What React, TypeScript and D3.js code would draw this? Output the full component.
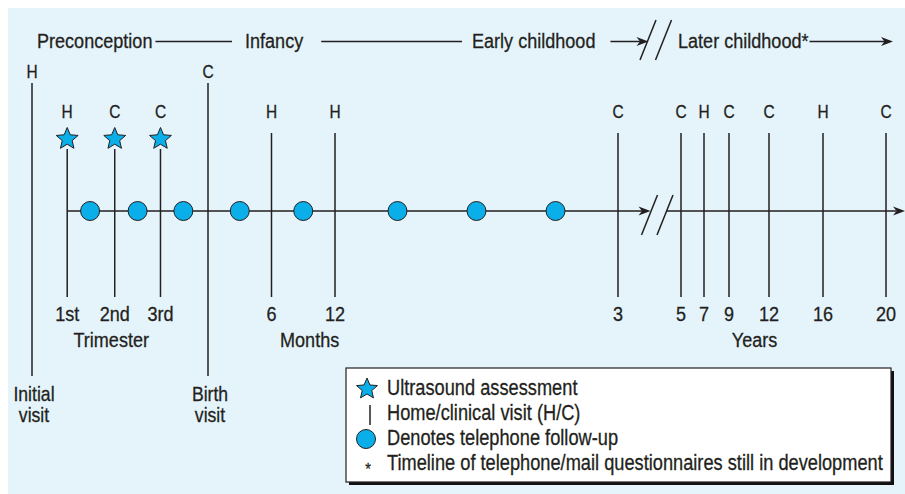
import { useEffect, useRef } from 'react';
import * as d3 from 'd3';

// study stages shown across the top
const eras = ['Preconception', 'Infancy', 'Early childhood', 'Later childhood*'];

// visits, in months relative to birth
const visitMonths = [-10, -8, -5.3, -2.7, 0, 6, 12, 36, 60, 84, 108, 144, 192, 240];
const visitCodes = ['H', 'H', 'C', 'C', 'C', 'H', 'H', 'C', 'C', 'H', 'C', 'C', 'H', 'C'];
const visitTicks = ['', '1st', '2nd', '3rd', '', '6', '12', '3', '5', '7', '9', '12', '16', '20'];
const milestoneMonths = [-10, 0];
const milestoneNames = [['Initial', 'visit'], ['Birth', 'visit']];
const ultrasoundMonths = [-8, -5.3, -2.7];
const phoneMonths = [-6.7, -4, -1.4, 3, 9, 17.3, 24, 30.7];
const unitLabels = ['Trimester', 'Months', 'Years'];
const unitMonths = [-5.5, 9.6, 131];
const breakMonth = 48;
const legendItems = [
  'Ultrasound assessment',
  'Home/clinical visit (H/C)',
  'Denotes telephone follow-up',
  'Timeline of telephone/mail questionnaires still in development',
];

// schematic timeline: each stage is stretched on its own
const timeKnots = [-10, 0, 12, 36, 60, 84, 108, 144, 192, 240];
const knotX = [32, 208, 335, 618, 681, 704, 729, 769, 823, 886];

const FONT = '"Liberation Sans", Arial, sans-serif';
const SX = 0.86; // squeeze to look like a condensed face
const INK = '#231f20';
const BLUE = '#0aaee9';

function arrowHead(tx: number, ty: number) {
  return `M${tx},${ty}L${tx - 12},${ty - 4.5}L${tx - 8.5},${ty}L${tx - 12},${ty + 4.5}Z`;
}

function starPath(outer: number, inner: number) {
  const pts = d3.range(10).map(i => [(i * Math.PI) / 5, i % 2 ? inner : outer] as [number, number]);
  return d3.lineRadial().curve(d3.curveLinearClosed)(pts) as string;
}

function label(sel: any, x: number, y: number, str: string, size: number, anchor = 'start') {
  return sel
    .append('text')
    .attr('transform', `translate(${x},${y}) scale(${SX},1)`)
    .attr('text-anchor', anchor)
    .attr('font-size', size)
    .attr('stroke', INK)
    .attr('stroke-width', 0.3)
    .text(str);
}

function Timeline() {
  const ref = useRef<SVGSVGElement>(null);

  useEffect(() => {
    const svg = d3.select(ref.current);
    svg.selectAll('*').remove();

    const x = d3.scaleLinear().domain(timeKnots).range(knotX);
    const axisY = 211;

    svg
      .append('rect')
      .attr('x', 8)
      .attr('y', 8)
      .attr('width', 897)
      .attr('height', 486)
      .attr('fill', '#e5f4fb');

    const g = svg.append('g').attr('font-family', FONT).attr('fill', INK);

    // header with stage names
    const eraX = [37, 245, 472, 678];
    const headY = 48;
    const lineY = 41.5;
    const ends: number[] = [];
    eras.forEach((name, i) => {
      const t = label(g, eraX[i], headY, name, 21);
      const w = (t.node() as SVGTextElement).getComputedTextLength() * SX;
      ends.push(eraX[i] + w);
    });
    const conn = [
      [ends[0] + 3, eraX[1] - 13, false],
      [ends[1] + 18, eraX[2] - 10, false],
      [ends[2] + 15, x(breakMonth) - 1, true],
      [ends[3] + 1, 893, true],
    ] as [number, number, boolean][];
    conn.forEach(([a, b, arrow]) => {
      g.append('line')
        .attr('x1', a)
        .attr('x2', arrow ? b - 8 : b)
        .attr('y1', lineY)
        .attr('y2', lineY)
        .attr('stroke', INK)
        .attr('stroke-width', 1.5);
      if (arrow) g.append('path').attr('d', arrowHead(b, lineY)).attr('fill', INK);
    });

    const slashes = (cx: number, cy: number, h: number) => {
      [0, 15.5].forEach(dx => {
        g.append('line')
          .attr('x1', cx + dx - 8)
          .attr('y1', cy + h / 2)
          .attr('x2', cx + dx + 8)
          .attr('y2', cy - h / 2)
          .attr('stroke', INK)
          .attr('stroke-width', 1.5);
      });
    };
    slashes(x(breakMonth) - 1.5, 40, 40);

    // main axis, broken between early and later childhood
    const axisStart = x(ultrasoundMonths[0]);
    g.append('line')
      .attr('x1', axisStart)
      .attr('x2', x(breakMonth) - 6)
      .attr('y1', axisY)
      .attr('y2', axisY)
      .attr('stroke', INK)
      .attr('stroke-width', 1.5);
    g.append('path').attr('d', arrowHead(x(breakMonth) + 1, axisY)).attr('fill', INK);
    g.append('line')
      .attr('x1', x(breakMonth) + 17)
      .attr('x2', 896)
      .attr('y1', axisY)
      .attr('y2', axisY)
      .attr('stroke', INK)
      .attr('stroke-width', 1.5);
    g.append('path').attr('d', arrowHead(905, axisY)).attr('fill', INK);
    slashes(x(breakMonth), axisY + 4, 40);

    // visits
    const star = starPath(11.5, 5.2);
    visitMonths.forEach((m, i) => {
      const cx = x(m);
      const tall = milestoneMonths.includes(m);
      const us = ultrasoundMonths.includes(m);
      const top = tall ? 83 : us ? 149 : 133;
      const bottom = tall ? 376 : 297;
      g.append('line')
        .attr('x1', cx)
        .attr('x2', cx)
        .attr('y1', top)
        .attr('y2', bottom)
        .attr('stroke', INK)
        .attr('stroke-width', 1.5);
      label(g, cx, tall ? 78 : 118, visitCodes[i], 18, 'middle');
      if (visitTicks[i]) label(g, cx, 321, visitTicks[i], 21, 'middle');
      if (us) {
        g.append('path')
          .attr('d', star)
          .attr('transform', `translate(${cx},${139})`)
          .attr('fill', BLUE)
          .attr('stroke', INK)
          .attr('stroke-width', 1);
      }
    });

    milestoneMonths.forEach((m, i) => {
      milestoneNames[i].forEach((s, k) => {
        label(g, x(m) + 2, 401 + k * 20.5, s, 20.5, 'middle');
      });
    });

    unitLabels.forEach((s, i) => {
      label(g, x(unitMonths[i]), 347, s, 21, 'middle');
    });

    g.selectAll('circle.phone')
      .data(phoneMonths)
      .join('circle')
      .attr('class', 'phone')
      .attr('cx', d => x(d))
      .attr('cy', axisY)
      .attr('r', 9.5)
      .attr('fill', BLUE)
      .attr('stroke', INK)
      .attr('stroke-width', 1);

    // legend
    const lx = 346;
    const ly = 368;
    const lw = 545;
    const lh = 114;
    g.append('rect')
      .attr('x', lx + 3)
      .attr('y', ly + 3)
      .attr('width', lw)
      .attr('height', lh)
      .attr('fill', '#111');
    g.append('rect')
      .attr('x', lx)
      .attr('y', ly)
      .attr('width', lw)
      .attr('height', lh)
      .attr('fill', '#fff')
      .attr('stroke', INK)
      .attr('stroke-width', 1.2);

    const rowY = d3.scaleLinear().domain([0, 3]).range([395, 470]);
    legendItems.forEach((s, i) => {
      label(g, 387, rowY(i), s, 21.2);
    });
    g.append('path')
      .attr('d', starPath(11, 5))
      .attr('transform', `translate(367,${rowY(0) - 6})`)
      .attr('fill', BLUE)
      .attr('stroke', INK);
    g.append('line')
      .attr('x1', 370)
      .attr('x2', 370)
      .attr('y1', rowY(1) - 15)
      .attr('y2', rowY(1) + 5)
      .attr('stroke', INK)
      .attr('stroke-width', 1.5);
    g.append('circle')
      .attr('cx', 366)
      .attr('cy', rowY(2) - 6)
      .attr('r', 9.5)
      .attr('fill', BLUE)
      .attr('stroke', INK);
    label(g, 368, rowY(3) + 5, '*', 17, 'middle');
  }, []);

  return (
    <svg
      ref={ref}
      width={905}
      height={494}
      style={{ position: 'absolute', left: 0, top: 0 }}
      role="img"
      aria-label="Study timeline"
    />
  );
}

export default function App() {
  return <Timeline />;
}
